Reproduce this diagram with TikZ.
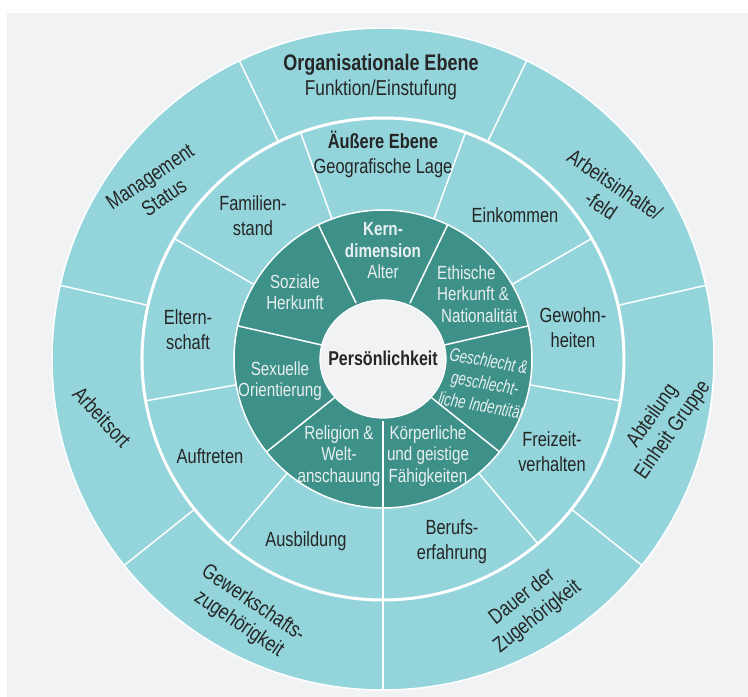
\documentclass[tikz,border=0pt]{standalone}
\usepackage{fontspec}
\setmainfont{Liberation Sans}[FakeStretch=0.80]
\newfontfamily\narrowit{Liberation Sans}[FakeStretch=0.72]
\definecolor{pagegray}{HTML}{F1F2F4}
\definecolor{lightteal}{HTML}{94D4DB}
\definecolor{darkteal}{HTML}{3E9189}
\definecolor{txtdark}{HTML}{262626}
\definecolor{txtlight}{HTML}{E8EFF0}
\begin{document}
\begin{tikzpicture}[x=1pt,y=1pt,
  ringtxt/.style={text=txtdark, align=center, inner sep=0pt, font=\fontsize{20.5}{25}\selectfont},
  outertxt/.style={ringtxt, font=\fontsize{21.5}{25}\selectfont},
  coretxt/.style={text=txtlight, align=center, inner sep=0pt, font=\fontsize{19}{21.5}\selectfont},
  divider/.style={draw=white, line width=1.5pt},
]
% page and panel
\useasboundingbox (-383,-338) rectangle (365,359);
\fill[white] (-383,-338) rectangle (365,359);
\fill[pagegray] (-376,-338) rectangle (365,346);

\coordinate (c) at (0,0);

% outer (organisational) and middle (external) rings
\fill[lightteal] (c) circle[radius=331];
\draw[white, line width=1.5pt] (c) circle[radius=331];
\draw[white, line width=3pt] (c) circle[radius=241];

% outer ring dividers: seven equal sectors
\foreach \a in {270,218.571,167.143,115.714,64.286,12.857,-38.571}
  \draw[divider] (c) ++(\a:241) -- ++(\a:90);

% middle ring dividers: nine equal sectors
\foreach \a in {270,230,190,150,110,70,30,-10,-50}
  \draw[divider] (c) ++(\a:149) -- ++(\a:92);

% core dimension ring
\fill[darkteal] (c) circle[radius=149];
\draw[white, line width=1.5pt] (c) circle[radius=149];
\foreach \a in {270,218.571,167.143,115.714,64.286,12.857,-38.571}
  \draw[divider] (c) ++(\a:62) -- ++(\a:87);

% personality at the centre
\fill[pagegray, draw=white, line width=1.2pt] (c) ellipse[x radius=63, y radius=59];
\node[text=txtdark, inner sep=0pt, font=\fontsize{20}{22}\selectfont\bfseries] (pers) at (0,1) {Persönlichkeit};

% organisational level
\node[outertxt] (org) at (-2,282) {{\fontsize{22.5}{25}\selectfont\bfseries Organisationale Ebene}\\Funktion/Einstufung};
\node[outertxt, rotate=34] (mgmt) at (-226,172) {Management\\Status};
\node[outertxt, rotate=-34] (arbinh) at (225,164) {Arbeitsinhalte/\\-feld};
\node[outertxt, rotate=55] (abt) at (280,-64) {Abteilung\\Einheit Gruppe};
\node[outertxt, rotate=38] (dauer) at (147,-248) {Dauer der\\Zugehörigkeit};
\node[outertxt, rotate=-34] (gew) at (-137,-255) {Gewerkschafts-\\zugehörigkeit};
\node[outertxt, rotate=-47] (ort) at (-281,-58) {Arbeitsort};

% external level
\node[ringtxt] (ext) at (0,205) {\textbf{Äußere Ebene}\\Geografische Lage};
\node[ringtxt] (fam) at (-130,143) {Familien-\\stand};
\node[ringtxt] (eink) at (132,144) {Einkommen};
\node[ringtxt] (elt) at (-195,29) {Eltern-\\schaft};
\node[ringtxt] (gewo) at (190,31) {Gewohn-\\heiten};
\node[ringtxt] (auft) at (-173,-97) {Auftreten};
\node[ringtxt] (frei) at (169,-93) {Freizeit-\\verhalten};
\node[ringtxt] (ausb) at (-77,-182) {Ausbildung};
\node[ringtxt] (beruf) at (69,-183) {Berufs-\\erfahrung};

% core dimensions
\node[coretxt] (kern) at (0,108) {\textbf{Kern-}\\\textbf{dimension}\\Alter};
\node[coretxt] (soz) at (-88,67) {Soziale\\Herkunft};
\node[coretxt, align=left, anchor=west] (eth) at (54,65) {Ethische\\Herkunft \&\\\hspace*{4pt}Nationalität};
\node[coretxt, rotate=-10, font=\narrowit\fontsize{18.5}{22.5}\selectfont\itshape] (geschl) at (102,-24) {Geschlecht \&\\geschlecht-\\liche Indentität};
\node[coretxt] (sex) at (-103,-22) {Sexuelle\\Orientierung};
\node[coretxt] (rel) at (-44,-97) {Religion \&\\Welt-\\anschauung};
\node[coretxt] (koerp) at (45,-97) {Körperliche\\und geistige\\Fähigkeiten};
\end{tikzpicture}
\end{document}
